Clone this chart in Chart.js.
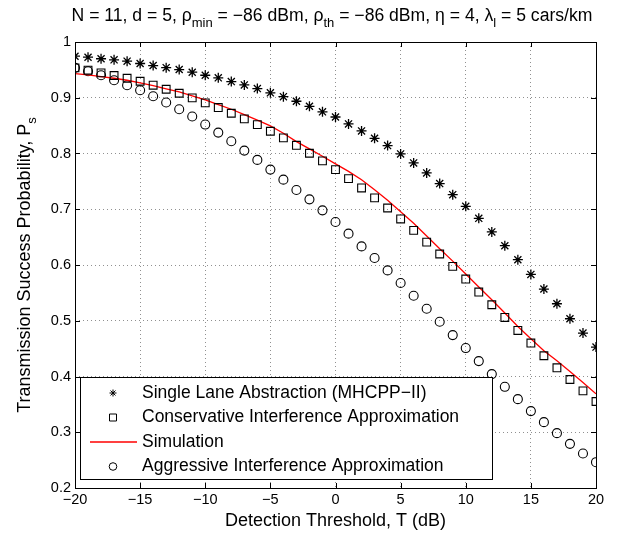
<!DOCTYPE html>
<html>
<head>
<meta charset="utf-8">
<script src="https://cdn.jsdelivr.net/npm/chart.js@4.4.1/dist/chart.umd.min.js"></script>
<style>
  html, body { margin: 0; padding: 0; background: #fff; }
  #wrap { width: 618px; height: 533px; }
</style>
</head>
<body>
<div id="wrap"><canvas id="psChart" width="618" height="533"></canvas></div>
<script>
// detection threshold T (dB)
const thresholds = [-20, -19, -18, -17, -16, -15, -14, -13, -12, -11, -10, -9, -8, -7, -6, -5, -4, -3, -2, -1, 0,
    1, 2, 3, 4, 5, 6, 7, 8, 9, 10, 11, 12, 13, 14, 15, 16, 17, 18, 19, 20];

const singleLane = [0.9745, 0.9727, 0.970, 0.968, 0.9656, 0.9614, 0.9578, 0.954, 0.9506, 0.9458, 0.9404, 0.9357, 0.929,
    0.923, 0.9165, 0.9088, 0.902, 0.8937, 0.8847, 0.8747, 0.8655, 0.8531, 0.8405, 0.8273, 0.8142, 0.7993, 0.7831,
    0.7652, 0.746, 0.7262, 0.7052, 0.6837, 0.6593, 0.6346, 0.6095, 0.5831, 0.5569, 0.5305, 0.5036, 0.4779, 0.4528];

const conservative = [0.9536, 0.9494, 0.9447, 0.9399, 0.935, 0.9296, 0.9225, 0.9153, 0.9081, 0.8998, 0.8908, 0.8824,
    0.8722, 0.8621, 0.8519, 0.8399, 0.828, 0.8147, 0.8004, 0.7867, 0.7711, 0.7549, 0.7382, 0.7203, 0.7023, 0.6826,
    0.6621, 0.641, 0.6197, 0.5975, 0.5748, 0.5515, 0.5287, 0.5059, 0.4826, 0.46, 0.4372, 0.4156, 0.3946, 0.3743, 0.3551];

const simulation = [0.9434, 0.941, 0.938, 0.935, 0.9314, 0.9266, 0.9218, 0.9159, 0.9105, 0.9033, 0.8962, 0.8878,
    0.8794, 0.8698, 0.8597, 0.8495, 0.8363, 0.8214, 0.8082, 0.7951, 0.7813, 0.768, 0.753, 0.735, 0.716, 0.6955,
    0.675, 0.652, 0.629, 0.607, 0.5838, 0.5605, 0.5377, 0.5138, 0.4898, 0.4677, 0.4461, 0.4282, 0.409, 0.3892, 0.369];

const aggressive = [0.9536, 0.9476, 0.9404, 0.9314, 0.9225, 0.9135, 0.9027, 0.8914, 0.8794, 0.8663, 0.8519, 0.8375,
    0.822, 0.8052, 0.7885, 0.7711, 0.7531, 0.7346, 0.7178, 0.698, 0.6772, 0.6562, 0.6334, 0.6125, 0.5903, 0.5677,
    0.5449, 0.5215, 0.4982, 0.4743, 0.451, 0.4276, 0.4043, 0.3815, 0.3594, 0.3379, 0.3181, 0.2984, 0.2792, 0.2618, 0.2463];

const seriesNames = [
    'Single Lane Abstraction (MHCPP\u2212II)',
    'Conservative Interference Approximation',
    'Simulation',
    'Aggressive Interference Approximation'
];

const xTicks = [-20, -15, -10, -5, 0, 5, 10, 15, 20];
const yTicks = [0.2, 0.3, 0.4, 0.5, 0.6, 0.7, 0.8, 0.9, 1];

const FONT = '"Liberation Sans", Arial, Helvetica, sans-serif';
const toPts = ys => thresholds.map((t, i) => ({ x: t, y: ys[i] }));
const fmtNum = v => (v < 0 ? '\u2212' + Math.abs(v) : String(v));

// draw text with subscript parts, [text, isSub]
function drawRich(ctx, parts, size, subSize, x, y, align) {
    const widths = parts.map(p => {
        ctx.font = (p[1] ? subSize : size) + 'px ' + FONT;
        return ctx.measureText(p[0]).width;
    });
    const total = widths.reduce((a, b) => a + b, 0);
    let cx = align === 'center' ? x - total / 2 : x;
    ctx.textAlign = 'left';
    ctx.textBaseline = 'alphabetic';
    parts.forEach((p, i) => {
        ctx.font = (p[1] ? subSize : size) + 'px ' + FONT;
        ctx.fillText(p[0], cx, y + (p[1] ? size * 0.32 : 0));
        cx += widths[i];
    });
}

const decorations = {
    id: 'decorations',
    afterDatasetsDraw(chart) {
        const ctx = chart.ctx;
        const a = chart.chartArea;
        const xs = chart.scales.x, ys = chart.scales.y;
        ctx.save();
        ctx.strokeStyle = '#000';
        ctx.lineWidth = 1;
        // inward ticks
        ctx.beginPath();
        xTicks.forEach(t => {
            const px = Math.round(xs.getPixelForValue(t)) + 0.5;
            ctx.moveTo(px, a.bottom); ctx.lineTo(px, a.bottom - 5);
            ctx.moveTo(px, a.top); ctx.lineTo(px, a.top + 5);
        });
        yTicks.forEach(t => {
            const py = Math.round(ys.getPixelForValue(t)) + 0.5;
            ctx.moveTo(a.left, py); ctx.lineTo(a.left + 5, py);
            ctx.moveTo(a.right, py); ctx.lineTo(a.right - 5, py);
        });
        ctx.stroke();
        ctx.strokeRect(Math.round(a.left) + 0.5, Math.round(a.top) + 0.5,
            Math.round(a.right - a.left), Math.round(a.bottom - a.top));

        // legend box
        const lx = 80, ly = 377, lw = 412, lh = 102, rowH = 24.5;
        ctx.fillStyle = '#fff';
        ctx.fillRect(lx, ly, lw, lh);
        ctx.strokeRect(lx + 0.5, ly + 0.5, lw, lh);
        chart.data.datasets.forEach((ds, i) => {
            const cy = ly + 16 + i * rowH;
            const mx = 113;
            ctx.strokeStyle = ds.borderColor;
            ctx.lineWidth = 1;
            if (ds.showLine) {
                ctx.beginPath();
                ctx.moveTo(90, cy); ctx.lineTo(137, cy);
                ctx.lineWidth = 1.5;
                ctx.stroke();
            } else {
                ctx.beginPath();
                if (ds.pointStyle === 'rect') {
                    ctx.rect(mx - 3.5, cy - 3.5, 7, 7);
                } else if (ds.pointStyle === 'circle') {
                    ctx.arc(mx, cy, 3.8, 0, Math.PI * 2);
                } else {
                    for (let k = 0; k < 4; k++) {
                        const ang = k * Math.PI / 4;
                        ctx.moveTo(mx - 3.5 * Math.cos(ang), cy - 3.5 * Math.sin(ang));
                        ctx.lineTo(mx + 3.5 * Math.cos(ang), cy + 3.5 * Math.sin(ang));
                    }
                }
                ctx.stroke();
            }
            ctx.fillStyle = '#000';
            ctx.font = '17.5px ' + FONT;
            ctx.textAlign = 'left';
            ctx.textBaseline = 'middle';
            ctx.fillText(ds.label, 142, cy);
        });

        // title with subscripts
        ctx.fillStyle = '#000';
        drawRich(ctx, [
            ['N = 11, d = 5, \u03c1', 0], ['min', 1], [' = \u221286 dBm, \u03c1', 0], ['th', 1],
            [' = \u221286 dBm, \u03b7 = 4, \u03bb', 0], ['l', 1], [' = 5 cars/km', 0]
        ], 17.6, 13, 332, 21, 'center');

        // x axis title
        ctx.font = '18px ' + FONT;
        ctx.textAlign = 'center';
        ctx.textBaseline = 'alphabetic';
        ctx.fillText('Detection Threshold, T (dB)', (a.left + a.right) / 2, 526);

        // y axis title (rotated)
        ctx.translate(30, (a.top + a.bottom) / 2);
        ctx.rotate(-Math.PI / 2);
        drawRich(ctx, [['Transmission Success Probability, P', 0], ['s', 1]], 18, 13, 0, 0, 'center');
        ctx.restore();
    }
};

const ctx = document.getElementById('psChart').getContext('2d');
const chart = new Chart(ctx, {
    type: 'scatter',
    data: {
        datasets: [
            {
                label: seriesNames[0],
                data: toPts(singleLane),
                showLine: false,
                pointStyle: 'star',
                pointRadius: 5,
                borderColor: '#000',
                backgroundColor: 'transparent',
                pointBorderWidth: 1.3
            },
            {
                label: seriesNames[1],
                data: toPts(conservative),
                showLine: false,
                pointStyle: 'rect',
                pointRadius: 5.5,
                borderColor: '#000',
                backgroundColor: 'transparent',
                pointBorderWidth: 1.1
            },
            {
                label: seriesNames[2],
                data: toPts(simulation),
                showLine: true,
                pointRadius: 0,
                borderColor: '#ff0000',
                borderWidth: 1.3,
                tension: 0
            },
            {
                label: seriesNames[3],
                data: toPts(aggressive),
                showLine: false,
                pointStyle: 'circle',
                pointRadius: 4.5,
                borderColor: '#000',
                backgroundColor: 'transparent',
                pointBorderWidth: 1.1
            }
        ]
    },
    options: {
        responsive: false,
        animation: false,
        events: [],
        layout: { padding: { top: 42, right: 22, left: 0, bottom: 0 } },
        plugins: {
            legend: { display: false },
            title: { display: false },
            tooltip: { enabled: false }
        },
        scales: {
            x: {
                type: 'linear',
                min: -20,
                max: 20,
                afterFit(scale) { scale.height = 45; },
                afterBuildTicks(scale) { scale.ticks = xTicks.map(v => ({ value: v })); },
                ticks: {
                    color: '#000',
                    font: { family: FONT, size: 14.5 },
                    padding: 3,
                    maxRotation: 0,
                    callback: v => fmtNum(v)
                },
                grid: { color: 'rgba(0,0,0,0.55)', lineWidth: 0.8, drawTicks: false },
                border: { display: false, dash: [1, 3] }
            },
            y: {
                type: 'linear',
                min: 0.2,
                max: 1,
                afterFit(scale) { scale.width = 75; },
                afterBuildTicks(scale) { scale.ticks = yTicks.map(v => ({ value: v })); },
                ticks: {
                    color: '#000',
                    font: { family: FONT, size: 14.5 },
                    padding: 4,
                    callback: v => String(Number(v.toFixed(1)))
                },
                grid: { color: 'rgba(0,0,0,0.55)', lineWidth: 0.8, drawTicks: false },
                border: { display: false, dash: [1, 3] }
            }
        }
    },
    plugins: [decorations]
});
</script>
</body>
</html>
